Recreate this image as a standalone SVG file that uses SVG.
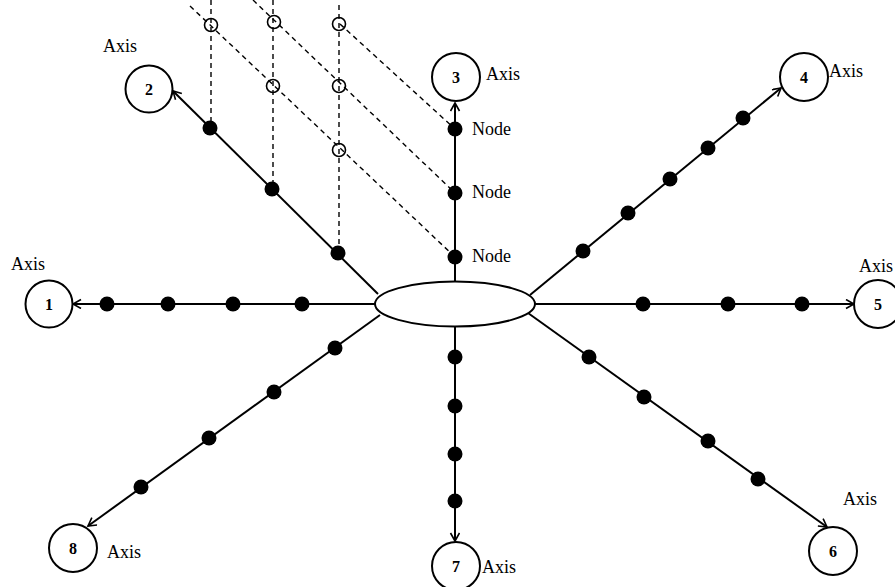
<svg xmlns="http://www.w3.org/2000/svg" width="895" height="587" viewBox="0 0 895 587">
<style>
.axis{fill:#fff;stroke:#000;stroke-width:2}
.num{font-family:"Liberation Serif",serif;font-weight:bold;font-size:16px;text-anchor:middle;fill:#000}
.lbl{font-family:"Liberation Serif",serif;font-size:18px;fill:#000}
.ln{stroke:#000;stroke-width:2;fill:none}
.dash{stroke:#000;stroke-width:1.4;stroke-dasharray:5 4;fill:none}
.dot{fill:#000}
.open{fill:none;stroke:#000;stroke-width:1.6}
</style>
<defs>
<marker id="arr" markerUnits="userSpaceOnUse" markerWidth="12" markerHeight="12" refX="9" refY="5" orient="auto">
<path d="M1,0.5 L9,5 L1,9.5" fill="none" stroke="#000" stroke-width="1.6"/>
</marker>
</defs>
<rect width="895" height="587" fill="#fff"/>

<g id="connectors">
<line class="dash" x1="211" y1="0" x2="211" y2="129"/>
<line class="dash" x1="273" y1="0" x2="273" y2="189"/>
<line class="dash" x1="339" y1="5" x2="339" y2="253"/>
<line class="dash" x1="190" y1="6" x2="455" y2="257"/>
<line class="dash" x1="253" y1="0" x2="455" y2="193"/>
<line class="dash" x1="340" y1="24" x2="455" y2="129"/>
<line class="ln" x1="375" y1="304" x2="73" y2="304" marker-end="url(#arr)"/>
<line class="ln" x1="378" y1="294" x2="173" y2="91" marker-end="url(#arr)"/>
<line class="ln" x1="455" y1="282" x2="455" y2="103" marker-end="url(#arr)"/>
<line class="ln" x1="530" y1="295" x2="781" y2="88" marker-end="url(#arr)"/>
<line class="ln" x1="535" y1="304" x2="854" y2="304" marker-end="url(#arr)"/>
<line class="ln" x1="528" y1="313" x2="827" y2="527" marker-end="url(#arr)"/>
<line class="ln" x1="455" y1="327" x2="455" y2="541" marker-end="url(#arr)"/>
<line class="ln" x1="380" y1="315" x2="88" y2="526" marker-end="url(#arr)"/>
</g>

<g id="hub">
<ellipse cx="455" cy="304" rx="80" ry="22.5" fill="#fff" stroke="#000" stroke-width="2"/>
</g>

<g id="axis-1"><circle class="axis" cx="49" cy="304" r="23.5"/><text class="num" x="49" y="310">1</text><text class="lbl" x="11" y="270">Axis</text></g>
<g id="axis-2"><circle class="axis" cx="149" cy="89" r="23.5"/><text class="num" x="149" y="95">2</text><text class="lbl" x="103" y="52">Axis</text></g>
<g id="axis-3"><circle class="axis" cx="456" cy="77" r="24"/><text class="num" x="456" y="83">3</text><text class="lbl" x="486" y="80">Axis</text></g>
<g id="axis-4"><circle class="axis" cx="804" cy="77" r="24"/><text class="num" x="804" y="83">4</text><text class="lbl" x="829" y="77">Axis</text></g>
<g id="axis-5"><circle class="axis" cx="878" cy="304" r="24"/><text class="num" x="878" y="310">5</text><text class="lbl" x="859" y="272">Axis</text></g>
<g id="axis-6"><circle class="axis" cx="833" cy="551" r="24"/><text class="num" x="833" y="557">6</text><text class="lbl" x="843" y="505">Axis</text></g>
<g id="axis-7"><circle class="axis" cx="456" cy="566" r="24"/><text class="num" x="456" y="572">7</text><text class="lbl" x="482" y="573">Axis</text></g>
<g id="axis-8"><circle class="axis" cx="73" cy="548" r="24"/><text class="num" x="73" y="554">8</text><text class="lbl" x="107" y="558">Axis</text></g>

<g id="nodes-1"><circle class="dot" cx="107" cy="304" r="7.5"/><circle class="dot" cx="168" cy="304" r="7.5"/><circle class="dot" cx="233" cy="304" r="7.5"/><circle class="dot" cx="302" cy="304" r="7.5"/></g>
<g id="nodes-2"><circle class="dot" cx="210" cy="128" r="7.5"/><circle class="dot" cx="272" cy="189" r="7.5"/><circle class="dot" cx="338" cy="253" r="7.5"/></g>
<g id="nodes-3">
<circle class="dot" cx="455" cy="129" r="7.5"/><circle class="dot" cx="455" cy="193" r="7.5"/><circle class="dot" cx="455" cy="257" r="7.5"/>
<text class="lbl" x="472" y="135">Node</text><text class="lbl" x="472" y="198">Node</text><text class="lbl" x="472" y="262">Node</text>
</g>
<g id="nodes-4"><circle class="dot" cx="583" cy="251" r="7.5"/><circle class="dot" cx="628" cy="213" r="7.5"/><circle class="dot" cx="670" cy="179" r="7.5"/><circle class="dot" cx="708" cy="148" r="7.5"/><circle class="dot" cx="743" cy="118" r="7.5"/></g>
<g id="nodes-5"><circle class="dot" cx="643" cy="304" r="7.5"/><circle class="dot" cx="728" cy="304" r="7.5"/><circle class="dot" cx="802" cy="304" r="7.5"/></g>
<g id="nodes-6"><circle class="dot" cx="589" cy="357" r="7.5"/><circle class="dot" cx="644" cy="397" r="7.5"/><circle class="dot" cx="708" cy="441" r="7.5"/><circle class="dot" cx="758" cy="479" r="7.5"/></g>
<g id="nodes-7"><circle class="dot" cx="455" cy="357" r="7.5"/><circle class="dot" cx="455" cy="406" r="7.5"/><circle class="dot" cx="455" cy="454" r="7.5"/><circle class="dot" cx="455" cy="501" r="7.5"/></g>
<g id="nodes-8"><circle class="dot" cx="335" cy="348" r="7.5"/><circle class="dot" cx="274" cy="392" r="7.5"/><circle class="dot" cx="209" cy="438" r="7.5"/><circle class="dot" cx="141" cy="487" r="7.5"/></g>

<g id="projections">
<circle class="open" cx="211" cy="25" r="6.5"/>
<circle class="open" cx="274" cy="22" r="6.5"/>
<circle class="open" cx="339" cy="24" r="6.5"/>
<circle class="open" cx="273" cy="86" r="6.5"/>
<circle class="open" cx="339" cy="86" r="6.5"/>
<circle class="open" cx="339" cy="150" r="6.5"/>
</g>
</svg>
